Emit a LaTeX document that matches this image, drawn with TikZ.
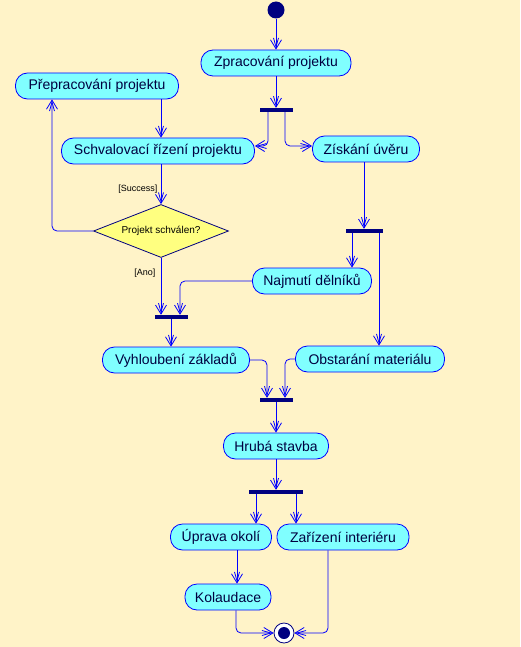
\documentclass[tikz,border=0pt]{standalone}
\usepackage{fontspec}
\setmainfont{Liberation Sans}
\usetikzlibrary{arrows.meta,shapes.geometric}
\definecolor{paper}{RGB}{255,243,200}
\definecolor{actfill}{RGB}{128,255,255}
\definecolor{decfill}{RGB}{255,255,128}
\definecolor{flowblue}{RGB}{0,0,255}
\definecolor{barnavy}{RGB}{0,0,128}
\definecolor{inkblue}{RGB}{0,0,64}

\begin{document}
\begin{tikzpicture}[x=1pt,y=-1pt,
  activity/.style={draw=flowblue,fill=actfill,line width=0.8pt,rounded corners=12pt,minimum height=26pt,inner ysep=2pt,text=inkblue,font=\fontsize{14}{16}\selectfont},
  bar/.style={fill=barnavy,minimum height=4pt,inner sep=0pt},
  flow/.style={draw=flowblue,line width=0.8pt,rounded corners=5pt,-{Straight Barb[length=9pt,width=5pt,sep=-9pt]Straight Barb[length=9pt,width=11pt]}},
  guard/.style={font=\fontsize{9}{10}\selectfont,text=black}]
\fill[paper] (0,0) rectangle (520,647);

\node[circle,fill=barnavy,minimum size=17pt,inner sep=0pt] (start) at (276,10) {};

\foreach \name/\x/\y/\w/\txt in
        {zprac/276/63/150/Zpracování projektu,
         prepr/97/86/163/Přepracování projektu,
         schval/158/151/193/Schvalovací řízení projektu,
         ziskani/366/149/107/Získání úvěru,
         najmuti/312/281/119/Najmutí dělníků,
         vyhloub/176/360/147/Vyhloubení základů,
         obstar/370/359/149/Obstarání materiálu,
         hruba/276/446/105/Hrubá stavba,
         uprava/221/537/101/Úprava okolí,
         zarizeni/343/537/132/Zařízení interiéru,
         kolaud/228/597/86/Kolaudace}
    \node[activity,minimum width=\w pt] (\name) at (\x,\y) {\txt};

\foreach \name/\x/\y/\w in
        {fork1/276/110/33, join2/171/317/33, fork4/364/231/37, join3/276/400/33, fork5/276/492/54}
    \node[bar,minimum width=\w pt] (\name) at (\x,\y) {};

\node[diamond,draw=barnavy,fill=decfill,line width=0.8pt,minimum width=135pt,minimum height=53pt,inner sep=0pt,aspect=2.5,font=\fontsize{10}{12}\selectfont,text=black] (decision) at (161,231) {Projekt schválen?};

\node[circle,draw=barnavy,fill=white,line width=0.8pt,minimum size=20pt,inner sep=0pt,
      path picture={\fill[barnavy] (path picture bounding box.center) circle (6pt);}] (final) at (284,633) {};

\draw[flow] (start) -- (zprac);
\draw[flow] (zprac) -- (fork1);
\draw[flow] ([xshift=-8pt]fork1.south) |- ([yshift=5pt]schval.east);
\draw[flow] ([xshift=9pt]fork1.south) |- ([yshift=3pt]ziskani.west);
\draw[flow] (prepr.south -| decision.north) -- (schval.north -| decision.north);
\draw[flow] (schval.south -| decision.north) -- node[guard,left=0pt,pos=0.62]{[Success]} (decision.north);
\draw[flow] (decision.west) -| ([xshift=-45pt]prepr.south);
\draw[flow] (decision.south) -- node[guard,left=2pt,pos=0.26]{[Ano]} (decision.south |- join2.north);
\draw[flow] (najmuti.west) -| ([xshift=9pt]join2.north);
\draw[flow] (join2.south) -- (join2.south |- vyhloub.north);
\draw[flow] (ziskani.south -| fork4.north) -- (fork4.north);
\draw[flow] ([xshift=-12pt]fork4.south) -- ([xshift=-12pt]fork4.south |- najmuti.north);
\draw[flow] ([xshift=15pt]fork4.south) -- ([xshift=15pt]fork4.south |- obstar.north);
\draw[flow] (vyhloub.east) -| ([xshift=-9pt]join3.north);
\draw[flow] (obstar.west) -| ([xshift=9pt]join3.north);
\draw[flow] (join3) -- (hruba);
\draw[flow] (hruba) -- (fork5);
\draw[flow] ([xshift=-20pt]fork5.south) -- ([xshift=-20pt]fork5.south |- uprava.north);
\draw[flow] ([xshift=20pt]fork5.south) -- ([xshift=20pt]fork5.south |- zarizeni.north);
\draw[flow] ([xshift=16pt]uprava.south) -- ([xshift=16pt]uprava.south |- kolaud.north);
\draw[flow] ([xshift=8pt]kolaud.south) |- (final.west);
\draw[flow] ([xshift=-15pt]zarizeni.south) |- (final.east);
\end{tikzpicture}
\end{document}
